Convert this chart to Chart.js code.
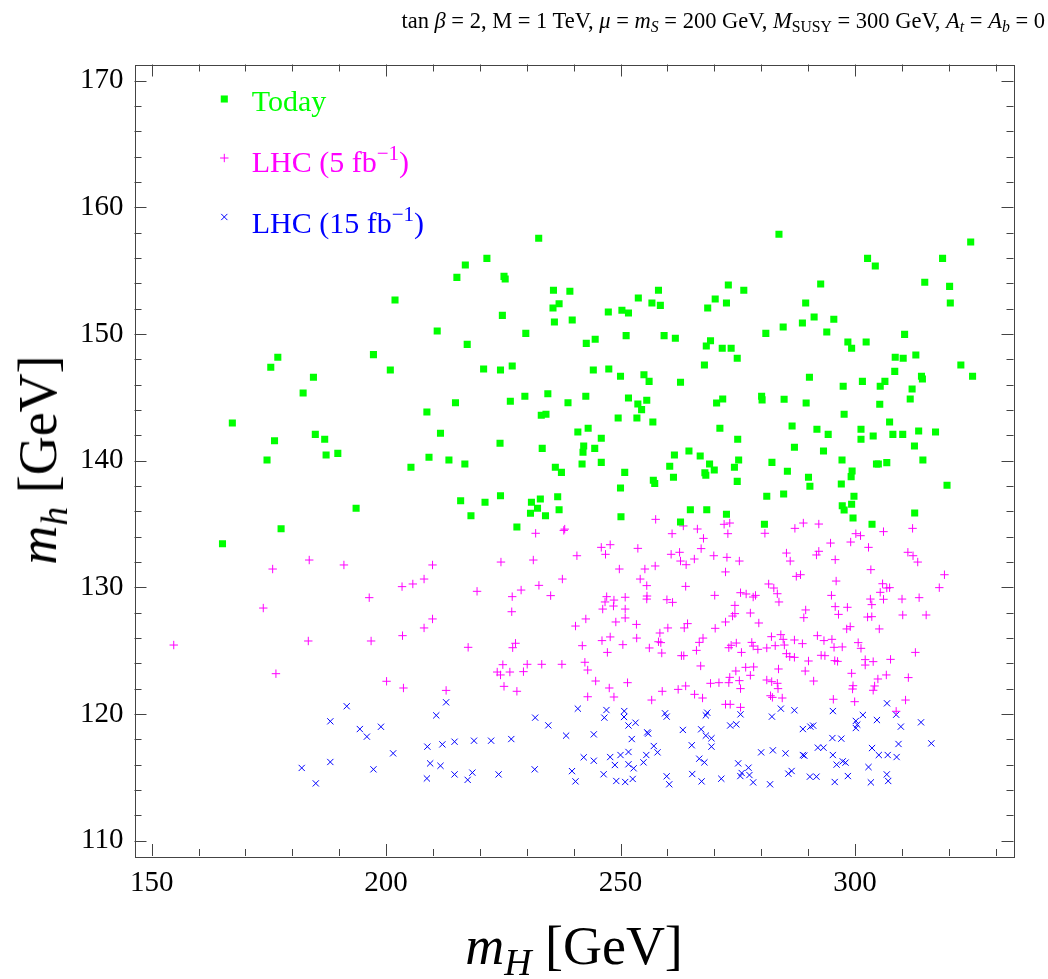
<!DOCTYPE html>
<html>
<head>
<meta charset="utf-8">
<script src="https://cdn.jsdelivr.net/npm/chart.js@4.4.1/dist/chart.umd.min.js"></script>
<style>
html,body{margin:0;padding:0;background:#fff;}
#wrap{position:relative;width:1048px;height:979px;overflow:hidden;}
canvas{position:absolute;left:0;top:0;}
.t{position:absolute;font-family:'Liberation Serif','Times New Roman',serif;line-height:1;white-space:nowrap;color:#000;}
.t sub{font-size:0.7em;vertical-align:-0.28em;line-height:0;}
.t sup{font-size:0.7em;vertical-align:0.55em;line-height:0;}
</style>
</head>
<body>
<div id="wrap">
<canvas id="c" width="1048" height="979"></canvas>
<div class="t" id="title" style="right:3px;top:9.7px;font-size:22.5px;">tan <i>β</i> = 2, M = 1 TeV, <i>μ</i> = <i>m</i><sub><i>S</i></sub> = 200 GeV, <i>M</i><sub>SUSY</sub> = 300 GeV, <i>A</i><sub><i>t</i></sub> = <i>A</i><sub><i>b</i></sub> = 0</div>
<div class="t" style="left:251.7px;top:85.9px;font-size:30px;color:#00ff00;">Today</div>
<div class="t" style="left:251.7px;top:146.9px;font-size:30px;color:#ff00ff;">LHC (5 fb<sup>−1</sup>)</div>
<div class="t" style="left:251.7px;top:207.9px;font-size:30px;color:#0000ff;">LHC (15 fb<sup>−1</sup>)</div>
<div class="t" id="xt" style="left:574px;top:919px;font-size:54px;transform:translateX(-50%);"><i>m</i><sub><i>H</i></sub> [GeV]</div>
<div class="t" id="yt" style="left:38px;top:460px;font-size:54px;transform:translate(-50%,-50%) rotate(-90deg);"><i>m</i><sub><i>h</i></sub> [GeV]</div>
</div>
<script>
// ---- data ----
const xTickValues = [150, 200, 250, 300];
const yTickValues = [110, 120, 130, 140, 150, 160, 170];

const todayMH = [176.9,175.4,184.5,182.3,167.2,184.9,186.9,176.2,187.2,189.7,174.6,193.6,177.6,165.1,
232.55,221.5,216.9,215.1,225.15,225.4,201.9,235.7,239.2,236.9,235.6,224.8,235.9,239.7,210.9,229.8,242.7,244.6,217.3,197.3,200.9,220.8,224.4,226.9,244.2,214.8,208.7,226.5,229.6,234.5,233.1,234.1,238.8,242.6,211.6,224.3,233.3,240.9,243.1,242.15,242.0,244.5,209.15,213.4,205.3,216.8,236.1,237.4,241.8,
215.9,221.1,224.4,218.1,231.0,232.9,236.6,232.3,230.8,234.0,236.9,227.9,
283.8,273.0,276.3,292.7,258.1,253.8,256.7,258.5,270.2,268.6,272.6,289.5,247.4,250.3,251.7,291.3,288.8,284.7,281.0,251.2,259.3,261.7,269.2,268.3,271.7,273.6,274.9,267.9,247.5,250.0,255.0,256.1,262.8,290.3,251.7,253.7,255.6,254.5,270.5,271.8,280.1,280.2,284.9,289.6,249.5,253.5,256.9,271.2,286.6,291.9,245.9,275.0,287.1,261.5,264.6,267.0,269.0,270.0,260.5,245.9,250.9,261.3,257.0,257.3,268.0,268.2,274.3,275.2,274.9,282.3,285.6,290.1,290.4,250.0,281.2,284.8,
250.1,264.9,268.4,272.6,262.8,280.7,
324.7,302.7,304.35,318.7,314.9,320.2,320.35,295.5,294.0,310.6,298.5,299.3,302.4,308.6,310.3,313.0,322.6,308.5,314.2,314.4,325.1,301.6,306.4,297.5,305.4,312.2,311.8,305.3,297.7,307.4,294.3,301.3,301.3,303.9,308.1,310.2,313.6,317.2,312.7,293.3,297.25,304.6,305.0,306.8,314.5,299.4,299.2,297.1,319.65,299.8,
297.3,299.3,297.7,299.6,303.65,312.75];
const todayMh = [148.16,147.37,146.58,145.34,142.98,142.08,141.69,141.58,140.45,140.58,140.06,136.24,134.63,133.45,
157.55,155.97,155.45,154.47,154.55,154.34,152.68,153.45,153.37,152.39,152.05,151.47,150.95,151.1,150.24,150.05,149.26,149.58,149.18,148.37,147.16,147.24,147.16,147.47,147.16,144.58,143.84,144.69,145.08,145.29,143.58,143.66,144.58,145.08,142.16,141.37,140.97,142.27,142.56,141.16,140.66,140.97,140.27,140.06,139.48,139.74,139.48,139.08,139.74,
136.84,136.72,137.24,135.66,136.72,136.98,137.16,136.24,135.85,135.66,136.13,134.77,
157.87,153.87,153.45,153.95,153.45,152.84,152.45,152.26,152.76,152.05,152.45,152.45,151.74,151.87,151.66,151.34,150.87,150.55,150.05,149.87,149.87,149.66,149.47,149.05,148.87,148.87,148.08,147.55,147.24,146.66,146.79,146.26,146.19,146.58,144.95,144.48,144.77,144.03,144.55,144.87,145.08,144.8,144.85,144.55,143.37,143.37,143.05,142.56,142.74,142.48,141.77,141.69,141.06,140.45,140.77,140.37,139.74,139.27,139.56,139.87,139.08,138.69,138.45,138.2,139.05,138.85,139.48,140.06,138.37,139.87,139.16,138.69,137.98,137.85,137.19,137.37,
135.58,136.13,136.13,135.77,135.16,134.98,
157.26,155.97,155.37,155.97,154.08,153.76,152.45,151.16,150.16,149.97,149.37,148.87,149.37,148.16,148.08,148.34,147.55,147.05,146.66,146.45,146.66,146.26,146.26,145.87,145.87,145.66,144.87,144.45,143.66,143.05,142.08,142.48,141.69,141.95,142.08,142.08,142.34,142.27,141.16,140.77,140.06,139.74,139.74,139.85,140.06,139.19,138.74,138.16,138.06,137.19,
136.45,136.56,136.11,135.48,134.98,135.87];

const lhc5MH = [183.6,175.8,191.0,196.4,173.8,154.7,183.4,196.8,176.5,
238.1,237.9,231.9,209.9,224.5,231.4,240.7,203.4,205.7,208.1,219.4,226.9,228.8,232.6,235.1,237.6,226.8,209.9,208.1,203.5,240.4,242.6,217.5,227.0,227.6,241.85,242.4,243.0,224.9,230.1,233.2,237.5,223.7,224.4,226.4,229.3,200.1,203.7,212.8,225.15,227.9,243.0,244.7,
257.5,263.4,261.0,266.4,267.7,267.2,272.1,273.3,272.9,280.8,287.2,289.0,292.3,245.9,247.8,246.8,253.7,260.8,262.6,262.8,264.0,265.75,269.9,272.7,275.35,285.4,286.2,292.3,291.8,249.75,255.2,257.4,254.2,255.6,263.9,272.4,287.5,288.4,281.6,282.7,283.45,283.8,247.05,248.6,251.0,255.65,255.6,259.9,261.1,270.1,275.6,276.8,278.3,278.8,246.7,248.5,246.2,251.0,274.4,274.4,273.9,277.7,289.5,289.1,249.0,251.0,253.4,260.1,264.3,263.6,270.2,272.4,279.5,246.05,247.8,250.5,253.45,258.4,258.1,258.6,258.8,256.15,263.0,263.5,266.2,266.8,267.6,273.6,273.1,274.7,275.8,278.0,278.3,279.3,281.2,282.2,283.0,284.2,284.7,284.95,285.4,286.1,287.1,287.1,288.8,292.0,290.1,247.2,267.1,274.6,276.7,278.4,277.7,283.7,289.4,251.5,247.6,248.6,258.9,256.65,262.3,263.9,265.8,267.5,269.2,271.0,273.1,273.3,275.35,275.6,281.2,282.25,283.45,283.6,282.0,282.4,284.5,291.2,272.4,273.4,275.6,
300.2,301.2,306.1,312.3,294.8,299.1,302.9,295.8,311.3,312.4,313.4,303.4,319.1,296.0,305.9,306.8,307.4,305.4,318.0,295.0,303.3,306.1,310.05,313.7,295.8,298.4,303.6,296.5,302.7,303.6,310.2,315.2,298.25,299.0,305.2,293.4,295.1,295.55,297.3,300.7,301.3,292.8,293.6,295.7,296.3,302.2,302.2,303.9,307.6,312.9,299.3,304.9,306.7,311.4,299.6,299.5,303.9,304.2,295.4,299.95,310.8,308.8];
const lhc5Mh = [132.16,131.45,131.77,129.19,128.37,125.45,125.77,125.77,123.19,
134.6,134.5,134.27,131.77,132.0,132.16,132.5,130.06,130.27,130.66,129.69,129.27,129.79,130.16,129.35,130.66,128.08,127.51,126.8,126.19,126.95,127.51,125.27,125.24,125.59,125.4,124.09,123.48,123.9,123.93,123.93,123.93,123.32,123.09,123.32,123.35,122.59,122.06,121.87,122.19,121.8,121.37,122.61,
135.37,134.85,134.24,134.61,133.87,133.06,134.98,135.08,134.24,134.27,134.66,135.08,135.0,133.16,133.37,132.61,133.08,132.61,132.77,132.08,131.79,132.24,132.5,132.37,132.08,132.71,132.08,132.85,132.56,131.45,131.45,131.69,130.66,130.14,130.08,131.22,130.87,131.0,130.27,129.95,129.5,128.85,129.27,129.0,129.22,129.32,129.08,129.03,128.82,129.37,129.58,129.48,129.24,129.37,128.85,128.53,128.29,128.29,128.58,127.93,127.74,127.98,128.22,127.61,127.27,127.59,127.08,126.8,127.14,126.8,126.77,127.27,127.19,125.8,126.09,125.48,126.0,126.4,125.71,125.64,124.82,125.22,124.61,124.61,125.03,125.66,126.0,125.43,125.24,125.61,124.87,125.66,125.37,125.11,125.22,126.11,125.4,126.27,125.9,125.45,124.77,124.53,124.48,125.85,125.56,126.19,124.19,124.87,123.8,123.4,123.69,123.72,123.06,123.56,123.4,122.48,122.06,121.35,121.8,121.11,121.95,122.22,121.56,121.27,122.43,122.48,122.48,122.9,122.64,122.01,122.69,122.56,122.43,122.01,121.45,121.32,121.27,122.61,120.77,120.77,120.53,
134.24,134.08,134.4,134.66,133.5,133.58,133.16,132.19,132.77,132.5,132.0,131.4,131.0,130.5,130.29,129.95,129.98,129.61,129.98,129.37,129.08,129.06,129.08,129.19,128.48,128.43,128.64,127.87,127.66,127.69,127.82,127.82,126.72,126.9,126.72,125.8,125.9,125.27,125.3,125.64,125.19,124.64,124.61,124.22,124.16,124.3,123.87,124.14,124.32,124.87,123.22,122.77,123.09,122.88,122.24,121.98,121.88,122.22,121.17,120.98,121.11,120.22];

const lhc15MH = [191.6,188.1,194.4,195.9,188.1,182.0,185.0,
212.8,210.7,198.9,201.5,197.3,208.8,212.0,214.6,218.75,222.4,226.7,231.8,234.6,238.4,240.9,244.3,209.4,211.6,208.7,214.6,217.4,218.4,224.0,231.7,239.65,240.4,242.15,244.3,
247.0,246.55,250.8,250.75,251.7,253.2,259.5,259.85,268.5,268.2,275.6,273.4,274.7,282.3,284.2,287.1,252.4,255.7,255.9,263.3,267.2,268.2,269.4,269.4,265.2,288.9,290.5,291.1,257.1,257.9,255.5,251.7,250.0,247.8,251.7,248.8,252.8,254.9,266.8,267.9,275.1,277.3,280.0,282.5,285.2,288.9,289.2,292.1,246.4,249.1,251.0,252.6,259.85,260.4,265.3,267.3,271.5,275.56,275.85,277.5,278.3,281.9,285.8,286.5,290.4,291.8,
306.85,308.8,295.3,301.7,300.2,300.5,300.2,304.7,309.8,314.1,295.2,297.1,293.3,309.3,316.3,303.65,305.1,307.0,308.9,295.3,296.1,297.4,298.0,302.9,298.5,295.7,303.4,306.8,307.1];
const lhc15Mh = [120.62,119.43,118.82,118.22,116.22,115.75,114.53,
120.93,119.9,119.0,116.9,115.64,117.43,117.61,117.82,117.9,117.9,118.03,119.72,119.11,118.3,120.43,118.4,116.11,115.92,114.92,115.24,114.81,115.38,115.24,115.64,115.5,114.69,116.59,116.32,
120.32,119.72,120.24,119.77,119.1,119.32,120.06,119.8,120.11,119.9,119.98,119.1,119.19,119.8,120.43,120.3,118.03,118.56,118.46,118.75,118.8,118.3,118.09,117.43,117.54,118.82,119.01,119.09,117.48,116.98,116.77,117.01,116.77,116.61,116.04,115.98,115.72,116.19,116.48,116.19,116.11,115.77,116.98,117.14,116.9,116.77,116.72,117.35,115.25,114.72,114.64,114.88,115.09,114.46,115.27,114.69,114.9,115.11,115.35,115.19,114.61,114.46,115.3,115.51,115.06,115.06,
120.85,119.95,120.24,119.93,119.46,119.17,118.9,119.53,119.01,119.35,118.11,118.06,117.35,117.64,117.69,117.32,116.77,116.77,116.61,116.77,116.01,116.27,116.17,115.82,115.11,114.64,114.61,115.24,114.72];

function pts(xs, ys){ return xs.map((v,i)=>({x:v, y:ys[i]})); }

const GREEN='#00ff00', MAGENTA='#ff00ff', BLUE='#0000ff';

const framePlugin = {
  id:'frame',
  afterDatasetsDraw(chart){
    const {ctx, chartArea:a, scales:{x, y}} = chart;
    ctx.save();
    ctx.strokeStyle='#444';
    ctx.lineWidth=1;
    const line=(x1,y1,x2,y2)=>{ctx.beginPath();ctx.moveTo(x1,y1);ctx.lineTo(x2,y2);ctx.stroke();};
    for(let v=150; v<=330; v+=10){
      const px=Math.round(x.getPixelForValue(v))+0.5;
      const L=(v%50===0)?12:7;
      line(px,a.bottom,px,a.bottom-L);
      line(px,a.top,px,a.top+L);
    }
    for(let v=110; v<=170; v+=2){
      const py=Math.round(y.getPixelForValue(v))+0.5;
      const L=(v%10===0)?12:7;
      line(a.left,py,a.left+L,py);
      line(a.right,py,a.right-L,py);
    }
    ctx.strokeRect(Math.round(a.left)+0.5, Math.round(a.top)+0.5, Math.round(a.right-a.left), Math.round(a.bottom-a.top));
    // legend markers
    const ds = chart.data.datasets;
    const legendY=[99,158,217];
    ds.forEach((d,i)=>{
      ctx.save();
      ctx.fillStyle=d.pointBackgroundColor; ctx.strokeStyle=d.pointBorderColor; ctx.lineWidth=d.pointBorderWidth;
      Chart.helpers.drawPoint(ctx,{pointStyle:d.pointStyle, radius:d.pointRadius, borderWidth:d.pointBorderWidth}, 224.3, legendY[i]);
      ctx.restore();
    });
    ctx.restore();
  }
};

new Chart(document.getElementById('c'), {
  type:'scatter',
  data:{datasets:[
    {label:'Today', data:pts(todayMH,todayMh), pointStyle:'rect', pointRadius:5, pointBackgroundColor:GREEN, pointBorderColor:GREEN, pointBorderWidth:0, showLine:false},
    {label:'LHC (5 fb−1)', data:pts(lhc5MH,lhc5Mh), pointStyle:'cross', pointRadius:4.2, pointBackgroundColor:MAGENTA, pointBorderColor:MAGENTA, pointBorderWidth:1, showLine:false},
    {label:'LHC (15 fb−1)', data:pts(lhc15MH,lhc15Mh), pointStyle:'crossRot', pointRadius:4.4, pointBackgroundColor:BLUE, pointBorderColor:BLUE, pointBorderWidth:1, showLine:false}
  ]},
  options:{
    responsive:false, animation:false, events:[],
    layout:{padding:{left:0,right:34.5,top:64.5,bottom:0}},
    plugins:{legend:{display:false}, tooltip:{enabled:false}, title:{display:false}},
    scales:{
      x:{type:'linear', min:146.33, max:333.83,
         afterBuildTicks:(s)=>{s.ticks=xTickValues.map(v=>({value:v}));},
         afterFit:(s)=>{s.height=123;},
         grid:{display:false, drawTicks:false}, border:{display:false},
         ticks:{padding:10, color:'#000', font:{family:'Liberation Serif', size:29}, maxRotation:0, autoSkip:false}},
      y:{type:'linear', min:108.8, max:171.27,
         afterBuildTicks:(s)=>{s.ticks=yTickValues.map(v=>({value:v}));},
         afterFit:(s)=>{s.width=134.5;},
         grid:{display:false, drawTicks:false}, border:{display:false},
         ticks:{padding:11, color:'#000', font:{family:'Liberation Serif', size:29}, autoSkip:false}}
    }
  },
  plugins:[framePlugin]
});
</script>
</body>
</html>
